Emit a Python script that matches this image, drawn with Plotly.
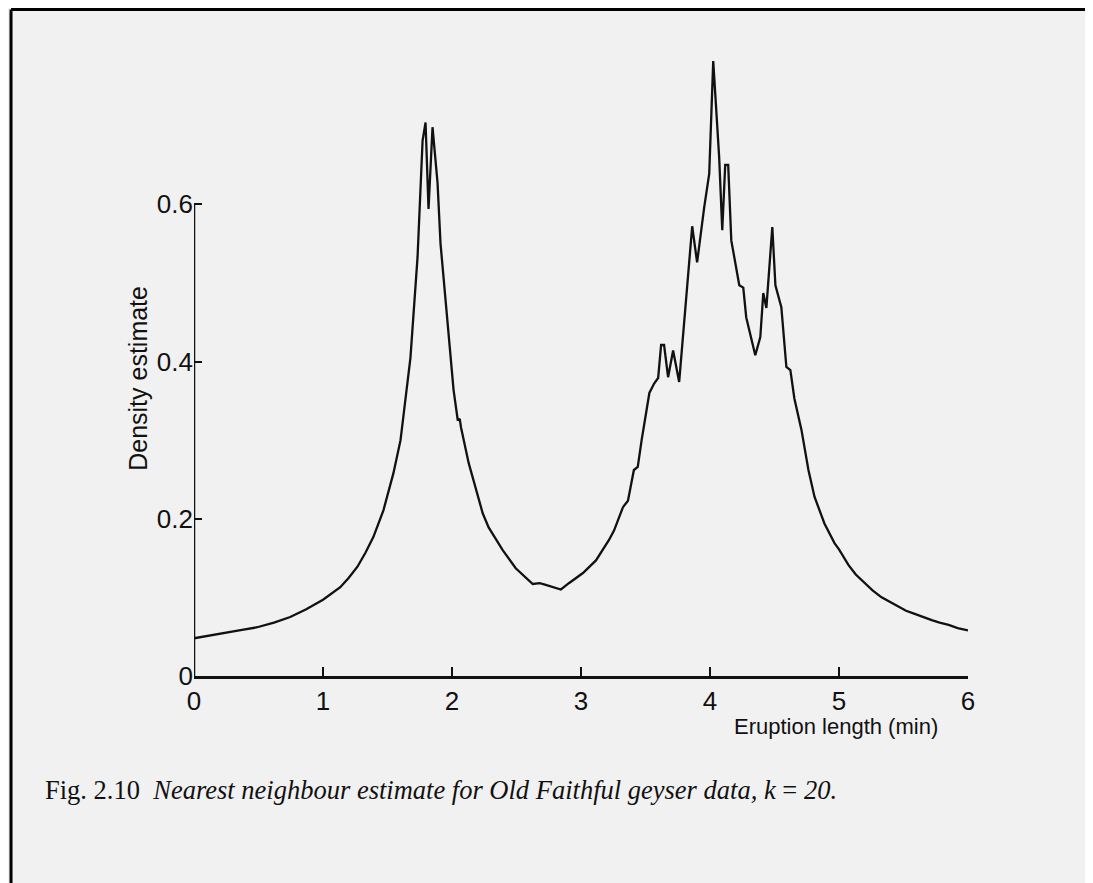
import plotly.graph_objects as go

# nearest neighbour density estimate
eruption_min = [
    0.0, 0.225, 0.35, 0.49, 0.62, 0.746, 0.87, 1.0, 1.134, 1.2,
    1.267, 1.33, 1.391, 1.469, 1.51, 1.546, 1.601, 1.64, 1.678, 1.733,
    1.772, 1.795, 1.818, 1.849, 1.888, 1.911, 1.966, 2.012, 2.045, 2.06,
    2.07, 2.129, 2.238, 2.284, 2.393, 2.494, 2.626, 2.68, 2.727, 2.782,
    2.844, 2.906, 3.015, 3.116, 3.217, 3.256, 3.326, 3.364, 3.41, 3.44,
    3.47, 3.53, 3.567, 3.598, 3.621, 3.644, 3.675, 3.714, 3.761, 3.862,
    3.9, 3.955, 3.994, 4.025, 4.071, 4.095, 4.11, 4.118, 4.141, 4.165,
    4.227, 4.258, 4.281, 4.351, 4.39, 4.413, 4.437, 4.483, 4.507, 4.553,
    4.592, 4.623, 4.654, 4.709, 4.763, 4.81, 4.887, 4.965, 5.0, 5.074,
    5.13, 5.198, 5.26, 5.33, 5.4, 5.462, 5.52, 5.587, 5.65, 5.719,
    5.78, 5.85, 5.92, 6.0,
]
density = [
    0.048, 0.055, 0.058, 0.062, 0.068, 0.075, 0.085, 0.097, 0.113, 0.125,
    0.139, 0.157, 0.177, 0.211, 0.235, 0.258, 0.300, 0.351, 0.405, 0.533,
    0.681, 0.704, 0.594, 0.698, 0.627, 0.55, 0.449, 0.364, 0.325, 0.327,
    0.316, 0.271, 0.207, 0.189, 0.160, 0.137, 0.117, 0.118, 0.116, 0.113,
    0.110, 0.118, 0.131, 0.147, 0.173, 0.185, 0.215, 0.223, 0.262, 0.266,
    0.300, 0.36, 0.372, 0.379, 0.421, 0.421, 0.380, 0.414, 0.374, 0.572,
    0.526, 0.596, 0.639, 0.782, 0.66, 0.567, 0.63, 0.650, 0.650, 0.554,
    0.497, 0.494, 0.456, 0.408, 0.431, 0.487, 0.468, 0.571, 0.497, 0.469,
    0.393, 0.389, 0.353, 0.313, 0.262, 0.228, 0.194, 0.169, 0.161, 0.141,
    0.129, 0.118, 0.109, 0.100, 0.094, 0.088, 0.083, 0.079, 0.075, 0.071,
    0.068, 0.065, 0.061, 0.058,
]

x_ticks = [0, 1, 2, 3, 4, 5, 6]
y_ticks = [0, 0.2, 0.4, 0.6]
y_tick_text = ["0", "0.2", "0.4", "0.6"]

PAPER = "#f1f1f1"
INK = "#111111"
AXIS_FONT = "Liberation Sans, Arial, sans-serif"
CAPTION_FONT = "Liberation Serif, Times New Roman, serif"

fig = go.Figure()
fig.add_trace(go.Scatter(
    x=eruption_min, y=density, mode="lines",
    line=dict(color=INK, width=2.3),
    showlegend=False, hoverinfo="x+y",
))

fig.update_xaxes(
    range=[0, 6], tickvals=x_ticks,
    showline=True, linecolor=INK, linewidth=2.5,
    ticks="inside", ticklen=9, tickwidth=2, tickcolor=INK,
    showgrid=False, zeroline=False,
    tickfont=dict(family=AXIS_FONT, size=26, color=INK),
    ticklabelstandoff=0,
)
fig.update_yaxes(
    range=[0, 0.8], tickvals=y_ticks, ticktext=y_tick_text,
    showline=False,
    ticks="inside", ticklen=8, tickwidth=2, tickcolor=INK,
    showgrid=False, zeroline=False,
    tickfont=dict(family=AXIS_FONT, size=26, color=INK),
)

# y axis only runs up to 0.6
fig.add_shape(type="line", xref="x", yref="y", x0=0, x1=0, y0=0, y1=0.6,
              line=dict(color=INK, width=2.5))

# scan border (top and left edges)
fig.add_shape(type="line", xref="paper", yref="paper",
              x0=-0.2364, x1=1.17, y0=1.0596, y1=1.0596,
              line=dict(color="black", width=3))
fig.add_shape(type="line", xref="paper", yref="paper",
              x0=-0.2364, x1=-0.2364, y0=1.0596, y1=-0.34,
              line=dict(color="black", width=3))

fig.add_annotation(
    text="Density estimate", textangle=-90,
    xref="paper", yref="paper", x=-0.0724, y=0.474,
    xanchor="center", yanchor="middle", showarrow=False,
    font=dict(family=AXIS_FONT, size=25, color=INK),
)
fig.add_annotation(
    text="Eruption length (min)",
    xref="paper", yref="paper", x=0.9638, y=-0.081,
    xanchor="right", yanchor="middle", showarrow=False,
    font=dict(family=AXIS_FONT, size=22, color=INK),
)
fig.add_annotation(
    text="Fig. 2.10  <i>Nearest neighbour estimate for Old Faithful geyser data, k</i> = <i>20.</i>",
    xref="paper", yref="paper", x=-0.1951, y=-0.1812,
    xanchor="left", yanchor="middle", showarrow=False,
    font=dict(family=CAPTION_FONT, size=26.5, color=INK),
)

fig.update_layout(
    width=1085, height=875,
    margin=dict(l=186, r=125, t=39, b=207),
    paper_bgcolor=PAPER, plot_bgcolor=PAPER,
)

fig.write_html("out.html")
